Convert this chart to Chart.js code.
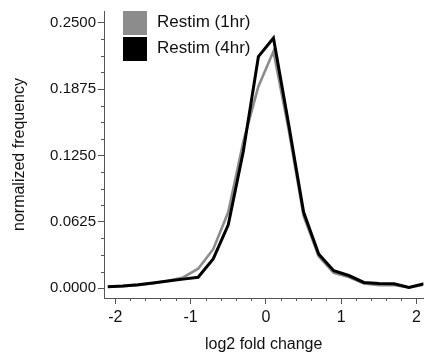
<!DOCTYPE html>
<html>
<head>
<meta charset="utf-8">
<script src="https://cdn.jsdelivr.net/npm/chart.js@4"></script>
<style>
  body { margin: 0; background: #fff; }
  #wrap { width: 425px; height: 358px; }
</style>
</head>
<body>
<div id="wrap"><canvas id="myChart" width="425" height="358"></canvas></div>
<script>
// bin centres (log2 fold change)
var xBins = [-2.1, -1.9, -1.7, -1.5, -1.3, -1.1, -0.9, -0.7, -0.5, -0.3, -0.1,
             0.1, 0.3, 0.5, 0.7, 0.9, 1.1, 1.3, 1.5, 1.7, 1.9, 2.1];

var restim1hr = [0.0014, 0.0020, 0.0030, 0.0048, 0.0070, 0.0102, 0.0184, 0.0368, 0.0717, 0.1380, 0.1900,
                 0.2230, 0.1500, 0.0680, 0.0300, 0.0145, 0.0105, 0.0045, 0.0030, 0.0032, 0.0008, 0.0035];
var restim4hr = [0.0015, 0.0022, 0.0033, 0.0050, 0.0068, 0.0086, 0.0104, 0.0276, 0.0597, 0.1290, 0.2180,
                 0.2355, 0.1550, 0.0717, 0.0322, 0.0165, 0.0120, 0.0055, 0.0046, 0.0042, 0.0008, 0.0042];

var legends = ['Restim (1hr)', 'Restim (4hr)'];
var xTicks = [-2, -1, 0, 1, 2];
var yTicks = [0, 0.0625, 0.125, 0.1875, 0.25];

var grey = '#8c8c8c';
var black = '#000000';
var axisColor = '#555555';
var fontFamily = "'Liberation Sans', Arial, Helvetica, sans-serif";

function toPoints(ys) {
  return xBins.map(function (x, i) { return { x: x, y: ys[i] }; });
}

// minor tick marks + legend drawn on top
const extras = {
  id: 'extras',
  afterDraw(chart) {
    const ctx = chart.ctx;
    const xs = chart.scales.x, ys = chart.scales.y;
    ctx.save();
    ctx.strokeStyle = axisColor;
    ctx.lineWidth = 1;
    ctx.beginPath();
    for (var v = -2.2; v <= 2.1; v += 0.2) {
      var vv = Math.round(v * 10) / 10;
      if (vv < xs.min || vv > xs.max) continue;
      if (Math.abs(vv - Math.round(vv)) < 1e-6) continue;
      var px = Math.round(xs.getPixelForValue(vv)) + 0.5;
      ctx.moveTo(px, xs.top);
      ctx.lineTo(px, xs.top + 3);
    }
    for (var k = 1; k < 17; k++) {
      if (k % 4 === 0) continue;
      var yv = k * 0.015625;
      if (yv > ys.max) continue;
      var py = Math.round(ys.getPixelForValue(yv)) + 0.5;
      ctx.moveTo(ys.right, py);
      ctx.lineTo(ys.right - 3, py);
    }
    ctx.stroke();

    // legend in the upper left of the plot
    var colors = [grey, black];
    ctx.font = '17px ' + fontFamily;
    ctx.textBaseline = 'middle';
    ctx.textAlign = 'left';
    for (var i = 0; i < legends.length; i++) {
      var top = 11 + i * 26;
      ctx.fillStyle = colors[i];
      ctx.fillRect(123, top, 24, 24);
      ctx.fillStyle = '#111';
      ctx.fillText(legends[i], 157, top + 11);
    }
    ctx.restore();
  }
};

const data = {
  datasets: [{
    label: legends[0],
    data: toPoints(restim1hr),
    borderColor: grey,
    borderWidth: 2.6,
    pointRadius: 0,
    tension: 0,
    order: 2
  }, {
    label: legends[1],
    data: toPoints(restim4hr),
    borderColor: black,
    borderWidth: 3,
    pointRadius: 0,
    tension: 0,
    order: 1
  }]
};

const config = {
  type: 'line',
  data: data,
  options: {
    responsive: false,
    animation: false,
    layout: { padding: { top: 3, right: 0, bottom: 0, left: 0 } },
    plugins: {
      legend: { display: false },
      tooltip: { enabled: false }
    },
    scales: {
      x: {
        type: 'linear',
        min: -2.15,
        max: 2.09,
        afterBuildTicks: function (scale) {
          scale.ticks = xTicks.map(function (v) { return { value: v }; });
        },
        afterFit: function (scale) { scale.height = 60; },
        ticks: {
          color: '#111',
          font: { family: fontFamily, size: 16 },
          padding: 4,
          maxRotation: 0,
          callback: function (v) { return String(v); }
        },
        grid: {
          drawOnChartArea: false,
          drawTicks: true,
          tickLength: 6,
          tickColor: axisColor
        },
        border: { display: true, color: axisColor, width: 1 },
        title: {
          display: true,
          text: 'log2 fold change',
          color: '#111',
          font: { family: fontFamily, size: 16 },
          padding: { top: 0, bottom: 4 }
        }
      },
      y: {
        type: 'linear',
        min: -0.00916,
        max: 0.26099,
        afterBuildTicks: function (scale) {
          scale.ticks = yTicks.map(function (v) { return { value: v }; });
        },
        afterFit: function (scale) { scale.width = 104; },
        ticks: {
          color: '#111',
          font: { family: fontFamily, size: 15 },
          padding: 2,
          callback: function (v) { return v.toFixed(4); }
        },
        grid: {
          drawOnChartArea: false,
          drawTicks: true,
          tickLength: 6,
          tickColor: axisColor
        },
        border: { display: true, color: axisColor, width: 1 },
        title: {
          display: true,
          text: 'normalized frequency',
          color: '#111',
          font: { family: fontFamily, size: 16 },
          padding: { top: 10, bottom: 0 }
        }
      }
    }
  },
  plugins: [extras]
};

var myChart = new Chart(document.getElementById('myChart'), config);
</script>
</body>
</html>
